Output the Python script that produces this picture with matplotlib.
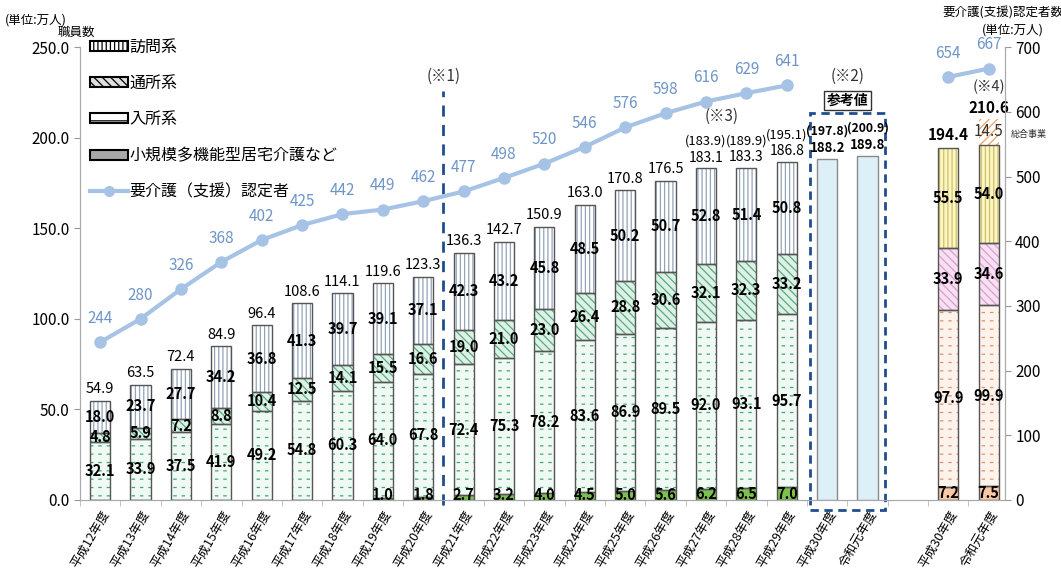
import matplotlib
matplotlib.use("Agg")
import matplotlib.pyplot as plt
from matplotlib.patches import Patch, Rectangle
from matplotlib.lines import Line2D
import numpy as np

plt.rcParams['font.family'] = ['Noto Sans CJK JP', 'DejaVu Sans']
plt.rcParams['hatch.linewidth'] = 0.9

# ---- data ----
years = ['平成12年度', '平成13年度', '平成14年度', '平成15年度', '平成16年度', '平成17年度',
         '平成18年度', '平成19年度', '平成20年度', '平成21年度', '平成22年度', '平成23年度',
         '平成24年度', '平成25年度', '平成26年度', '平成27年度', '平成28年度', '平成29年度']
ref_years = ['平成30年度', '令和元年度']
right_years = ['平成30年度', '令和元年度']

small = [0, 0, 0, 0, 0, 0, 0, 1.0, 1.8, 2.7, 3.2, 4.0, 4.5, 5.0, 5.6, 6.2, 6.5, 7.0]
nyusho = [32.1, 33.9, 37.5, 41.9, 49.2, 54.8, 60.3, 64.0, 67.8, 72.4, 75.3, 78.2,
          83.6, 86.9, 89.5, 92.0, 93.1, 95.7]
tsusho = [4.8, 5.9, 7.2, 8.8, 10.4, 12.5, 14.1, 15.5, 16.6, 19.0, 21.0, 23.0,
          26.4, 28.8, 30.6, 32.1, 32.3, 33.2]
homon = [18.0, 23.7, 27.7, 34.2, 36.8, 41.3, 39.7, 39.1, 37.1, 42.3, 43.2, 45.8,
         48.5, 50.2, 50.7, 52.8, 51.4, 50.8]
totals = [54.9, 63.5, 72.4, 84.9, 96.4, 108.6, 114.1, 119.6, 123.3, 136.3, 142.7, 150.9,
          163.0, 170.8, 176.5, 183.1, 183.3, 186.8]
paren_totals = [None] * 15 + [183.9, 189.9, 195.1]

ref_values = [188.2, 189.8]
ref_paren = [197.8, 200.9]

r_small = [7.2, 7.5]
r_nyusho = [97.9, 99.9]
r_tsusho = [33.9, 34.6]
r_homon = [55.5, 54.0]
r_sogo = [0, 14.5]
r_totals = [194.4, 210.6]

ninteisha = [244, 280, 326, 368, 402, 425, 442, 449, 462, 477, 498, 520, 546, 576,
             598, 616, 629, 641]
ninteisha_right = [654, 667]

# ---- positions ----
x_main = np.arange(len(years))
x_ref = np.arange(len(years), len(years) + len(ref_years))
x_right = np.arange(len(years) + len(ref_years) + 1,
                    len(years) + len(ref_years) + 1 + len(right_years))
W = 0.5
EDGE = '#555555'
NAVY = '#1F4E8C'


def hbar(ax, x, h, b, face, hatch=None, hcol=None, dashed=False):
    # hatch drawn first (edgecolor = hatch colour), then outline on top
    ax.bar(x, h, W, bottom=b, color=face, edgecolor=hcol if hatch else face,
           hatch=hatch, linewidth=0, zorder=2)
    if dashed:
        # white vertical strokes over the horizontal hatch -> short dashes
        with plt.rc_context({'hatch.linewidth': 3.5}):
            cover = ax.bar(x, h, W, bottom=b, color='none', edgecolor=face,
                           hatch='||', linewidth=0, zorder=2.5)
        for p in cover:
            if hasattr(p, 'set_hatch_linewidth'):
                p.set_hatch_linewidth(3.5)
    ax.bar(x, h, W, bottom=b, color='none', edgecolor=EDGE, linewidth=1.0, zorder=3)


fig = plt.figure(figsize=(10.61, 5.76), dpi=100)
ax = fig.add_axes([0.0754, 0.132, 0.8716, 0.786])
ax2 = ax.twinx()

# main stacked bars
b0 = np.zeros(len(years))
hbar(ax, x_main, small, b0, '#7CC04F')
b1 = b0 + np.array(small)
hbar(ax, x_main, nyusho, b1, '#F1F9F4', '--', '#3FA872', dashed=True)
b2 = b1 + np.array(nyusho)
hbar(ax, x_main, tsusho, b2, '#DDF1E6', '\\\\\\\\', '#5AAA80')
b3 = b2 + np.array(tsusho)
hbar(ax, x_main, homon, b3, 'white', '||||', '#93A3B8')

# reference bars
ax.bar(x_ref, ref_values, W, color='#DDEFF7', edgecolor='#8A8A8A', linewidth=1.0, zorder=3)

# right stacked bars
rb0 = np.zeros(2)
hbar(ax, x_right, r_small, rb0, '#F8C9A6')
rb1 = rb0 + np.array(r_small)
hbar(ax, x_right, r_nyusho, rb1, '#FEF3EC', '--', '#DF9268', dashed=True)
rb2 = rb1 + np.array(r_nyusho)
hbar(ax, x_right, r_tsusho, rb2, '#F7E0F2', '\\\\\\\\', '#DD9ACF')
rb3 = rb2 + np.array(r_tsusho)
hbar(ax, x_right, r_homon, rb3, '#FFF6BC', '||||', '#C8BE7A')
rb4 = rb3 + np.array(r_homon)
ax.bar(x_right, r_sogo, W, bottom=rb4, color='white', edgecolor='#F0A060',
       hatch='////', linewidth=0, zorder=2)

# segment labels
seg_kw = dict(ha='center', va='center', fontsize=10.5, fontweight='bold', color='black', zorder=5)
for i in range(len(years)):
    if small[i] > 0:
        ax.text(x_main[i], max(small[i] / 2, 3.0), f'{small[i]:.1f}', **seg_kw)
    ax.text(x_main[i], b1[i] + nyusho[i] / 2, f'{nyusho[i]:.1f}', **seg_kw)
    ax.text(x_main[i], b2[i] + tsusho[i] / 2, f'{tsusho[i]:.1f}', **seg_kw)
    ax.text(x_main[i], b3[i] + homon[i] / 2, f'{homon[i]:.1f}', **seg_kw)
    top = b3[i] + homon[i]
    if paren_totals[i] is not None:
        ax.text(x_main[i], top + 2.0, f'{totals[i]:.1f}', ha='center', va='bottom',
                fontsize=10, zorder=5)
        ax.text(x_main[i], top + 11.5, f'({paren_totals[i]:.1f})', ha='center', va='bottom',
                fontsize=9.3, zorder=5)
    else:
        ax.text(x_main[i], top + 2.5, f'{totals[i]:.1f}', ha='center', va='bottom',
                fontsize=10.5, zorder=5)

for i in range(2):
    ax.text(x_ref[i], ref_values[i] + 2.5, f'{ref_values[i]:.1f}', ha='center', va='bottom',
            fontsize=9.5, fontweight='bold', zorder=5)
    ax.text(x_ref[i], ref_values[i] + 12.0, f'({ref_paren[i]:.1f})', ha='center', va='bottom',
            fontsize=8.8, fontweight='bold', zorder=5)
    ax.text(x_right[i], max(r_small[i] / 2, 3.0), f'{r_small[i]:.1f}', **seg_kw)
    ax.text(x_right[i], rb1[i] + r_nyusho[i] / 2, f'{r_nyusho[i]:.1f}', **seg_kw)
    ax.text(x_right[i], rb2[i] + r_tsusho[i] / 2, f'{r_tsusho[i]:.1f}', **seg_kw)
    ax.text(x_right[i], rb3[i] + r_homon[i] / 2, f'{r_homon[i]:.1f}', **seg_kw)
    if r_sogo[i] > 0:
        ax.text(x_right[i], rb4[i] + r_sogo[i] / 2, f'{r_sogo[i]:.1f}', ha='center',
                va='center', fontsize=11, color='#333333', zorder=5)
ax.text(x_right[0], rb4[0] + 2.5, f'{r_totals[0]:.1f}', ha='center', va='bottom',
        fontsize=11, fontweight='bold', zorder=5)
ax.text(x_right[1], rb4[1] + r_sogo[1] + 1.5, f'{r_totals[1]:.1f}', ha='center', va='bottom',
        fontsize=11, fontweight='bold', zorder=5)
ax.text(x_right[1], 224, '(※4)', ha='center', va='bottom', fontsize=10.5, color='#333333')
ax.text(22.55, 202, '総合事業', ha='left', va='center', fontsize=6.5, color='#333333')

# line on right axis
LINE = '#A6C3E6'
ax2.plot(x_main, ninteisha, color=LINE, lw=3, marker='o', ms=8, zorder=4)
ax2.plot(x_right, ninteisha_right, color=LINE, lw=3, marker='o', ms=8, zorder=4)
for xi, v in list(zip(x_main, ninteisha)) + list(zip(x_right, ninteisha_right)):
    ax2.annotate(f'{v}', (xi, v), xytext=(0, 11), textcoords='offset points',
                 ha='center', va='bottom', fontsize=11, color='#6E95C8')

# notes
ax.plot([8.5, 8.5], [-3, 226], color=NAVY, lw=2, ls=(0, (4, 3)), clip_on=False, zorder=4)
ax.text(8.5, 229, '(※1)', ha='center', va='bottom', fontsize=11, color='#333333')
ax.add_patch(Rectangle((17.57, -5.5), 1.86, 219, fill=False, edgecolor=NAVY, lw=2,
                       ls=(0, (3, 2)), clip_on=False, zorder=4))
ax.text(18.5, 229, '(※2)', ha='center', va='bottom', fontsize=11, color='#333333')
ax.text(18.5, 220.5, '参考値', ha='center', va='center', fontsize=10, fontweight='bold',
        bbox=dict(boxstyle='square,pad=0.2', facecolor='white', edgecolor='#333333', lw=1))
ax.text(15.4, 207, '(※3)', ha='center', va='bottom', fontsize=11, color='#333333')

# axes
ax.set_xlim(-0.5, 22.4)
ax.set_ylim(0, 250)
ax2.set_ylim(0, 700)
ax.set_yticks(np.arange(0, 251, 50))
ax.set_yticklabels([f'{v:.1f}' for v in np.arange(0, 251, 50)], fontsize=11)
ax2.set_yticks(np.arange(0, 701, 100))
ax2.tick_params(axis='y', labelsize=11, length=4, color='#999999')
ax.tick_params(axis='y', length=4, color='#999999')
xt = list(x_main) + list(x_ref) + list(x_right)
ax.set_xticks(xt)
ax.set_xticklabels(years + ref_years + right_years, rotation=60, ha='right',
                   rotation_mode='anchor', fontsize=9)
ax.tick_params(axis='x', length=0, pad=6)
ax.set_xticks(np.arange(-0.5, 22.5, 1.0), minor=True)
ax.tick_params(axis='x', which='minor', length=4, color='#BBBBBB')
for a in (ax, ax2):
    a.spines['top'].set_visible(False)
    for s in ('left', 'right', 'bottom'):
        a.spines[s].set_color('#AAAAAA')

fig.text(0.005, 0.965, '(単位:万人)', fontsize=9, ha='left', va='center')
fig.text(0.072, 0.943, '職員数', fontsize=9, ha='center', va='center')
fig.text(0.945, 0.977, '要介護(支援)認定者数', fontsize=9, ha='center', va='center')
fig.text(0.955, 0.948, '(単位:万人)', fontsize=9, ha='center', va='center')

# legend
handles = [
    Patch(facecolor='white', edgecolor='black', hatch='||||', lw=1.5),
    Patch(facecolor='#DDDDDD', edgecolor='black', hatch='\\\\\\\\', lw=1.5),
    Patch(facecolor='white', edgecolor='black', hatch='--', lw=1.5),
    Patch(facecolor='#A8A8A8', edgecolor='black', lw=1.5),
    Line2D([], [], color=LINE, lw=3, marker='o', ms=7),
]
labels = ['訪問系', '通所系', '入所系', '小規模多機能型居宅介護など', '要介護（支援）認定者']
leg = ax2.legend(handles, labels, loc='upper left', bbox_to_anchor=(0.0, 1.04),
                 frameon=False, fontsize=11.5, handlelength=2.4, handleheight=0.6,
                 handletextpad=0.1, labelspacing=1.2, borderaxespad=0.2)
leg.set_zorder(10)

fig.savefig('out.png', dpi=100, facecolor='white')
